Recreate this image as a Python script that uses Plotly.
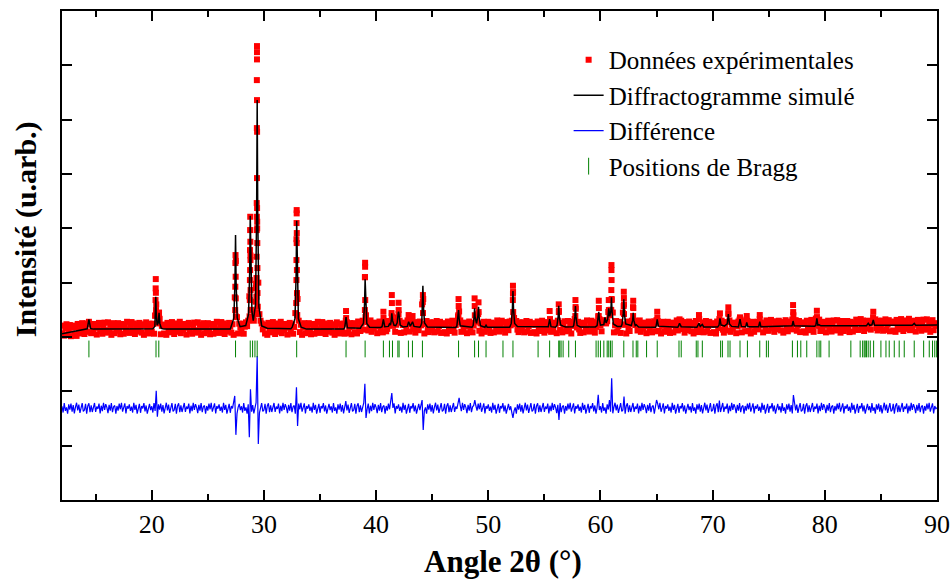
import numpy as np
import plotly.graph_objects as go

# ---------------- data ----------------
scan_start_2theta = 12.0
scan_step_2theta = 0.1

# observed intensity on the scan grid (12.0 .. 90.0, step 0.1), one row per degree
obs_counts = [
    3065, 3210, 3025, 3155, 3235, 3040, 3140, 3220, 3015, 3170,  # 12
    3210, 3045, 3180, 3020, 3240, 3120, 3065, 3200, 3255, 3090,  # 13
    3055, 3195, 3250, 3095, 3280, 3240, 3070, 3210, 3130, 3240,  # 14
    3215, 3045, 3170, 3260, 3105, 3235, 3060, 3185, 3265, 3080,  # 15
    3125, 3270, 3090, 3225, 3040, 3180, 3255, 3070, 3200, 3150,  # 16
    3255, 3115, 3050, 3240, 3195, 3060, 3220, 3135, 3280, 3095,  # 17
    3075, 3210, 3275, 3120, 3250, 3055, 3160, 3230, 3100, 3260,  # 18
    3190, 3080, 3235, 3040, 3215, 3270, 3110, 3065, 3245, 3175,  # 19
    3100, 3245, 3060, 3390, 3600, 3250, 3320, 3330, 3050, 3205,  # 20
    3230, 3065, 3200, 3040, 3260, 3140, 3085, 3220, 3275, 3110,  # 21
    3055, 3195, 3250, 3095, 3165, 3280, 3070, 3210, 3130, 3240,  # 22
    3215, 3045, 3170, 3260, 3105, 3235, 3060, 3185, 3265, 3080,  # 23
    3125, 3270, 3090, 3225, 3040, 3180, 3255, 3070, 3200, 3150,  # 24
    3255, 3115, 3050, 3240, 3195, 3060, 3220, 3135, 3280, 3095,  # 25
    3075, 3210, 3275, 3120, 3250, 3055, 3160, 3230, 3100, 3260,  # 26
    3190, 3080, 3235, 3040, 3730, 4400, 3365, 3065, 3245, 3175,  # 27
    3100, 3245, 3060, 3190, 3270, 3200, 3300, 3750, 4500, 3500,  # 28
    3340, 3300, 3420, 3980, 5000, 4000, 3420, 3300, 3250, 3140,  # 29
    3230, 3065, 3200, 3040, 3260, 3140, 3085, 3220, 3275, 3110,  # 30
    3055, 3195, 3250, 3095, 3165, 3280, 3070, 3210, 3130, 3240,  # 31
    3215, 3045, 3170, 3260, 3105, 3235, 3060, 3185, 3440, 4800,  # 32
    3700, 3300, 3090, 3225, 3040, 3180, 3255, 3070, 3200, 3150,  # 33
    3255, 3115, 3050, 3240, 3195, 3060, 3220, 3135, 3280, 3095,  # 34
    3075, 3210, 3275, 3120, 3250, 3055, 3160, 3230, 3100, 3260,  # 35
    3190, 3080, 3235, 3040, 3215, 3270, 3110, 3065, 3245, 3175,  # 36
    3100, 3245, 3060, 3300, 3270, 3075, 3175, 3255, 3050, 3205,  # 37
    3255, 3090, 3225, 3065, 3285, 3165, 3110, 3245, 3300, 3135,  # 38
    4100, 3400, 3275, 3120, 3190, 3305, 3095, 3235, 3155, 3265,  # 39
    3240, 3070, 3195, 3285, 3130, 3260, 3085, 3210, 3290, 3105,  # 40
    3150, 3295, 3250, 3250, 3380, 3205, 3280, 3095, 3225, 3360,  # 41
    3420, 3300, 3075, 3265, 3220, 3085, 3245, 3160, 3305, 3250,  # 42
    3100, 3235, 3300, 3145, 3275, 3080, 3185, 3255, 3125, 3285,  # 43
    3215, 3600, 3700, 3065, 3240, 3295, 3135, 3090, 3270, 3200,  # 44
    3125, 3270, 3085, 3215, 3295, 3100, 3200, 3280, 3075, 3230,  # 45
    3255, 3090, 3225, 3065, 3285, 3165, 3110, 3245, 3300, 3135,  # 46
    3080, 3220, 3275, 3380, 3470, 3305, 3095, 3235, 3155, 3265,  # 47
    3240, 3070, 3195, 3285, 3130, 3260, 3085, 3210, 3400, 3330,  # 48
    3280, 3420, 3115, 3250, 3065, 3205, 3280, 3095, 3225, 3175,  # 49
    3280, 3140, 3075, 3265, 3220, 3085, 3245, 3160, 3305, 3120,  # 50
    3100, 3235, 3300, 3145, 3275, 3080, 3185, 3255, 3125, 3285,  # 51
    3215, 3300, 3800, 3350, 3240, 3295, 3135, 3090, 3270, 3200,  # 52
    3125, 3270, 3085, 3215, 3295, 3100, 3200, 3280, 3075, 3230,  # 53
    3255, 3090, 3225, 3065, 3285, 3165, 3110, 3245, 3300, 3135,  # 54
    3080, 3220, 3275, 3120, 3190, 3330, 3095, 3235, 3155, 3265,  # 55
    3240, 3070, 3300, 3480, 3130, 3260, 3085, 3210, 3290, 3105,  # 56
    3150, 3295, 3115, 3250, 3065, 3205, 3280, 3330, 3520, 3175,  # 57
    3280, 3140, 3075, 3265, 3220, 3085, 3245, 3160, 3305, 3120,  # 58
    3100, 3235, 3300, 3145, 3275, 3080, 3185, 3255, 3380, 3330,  # 59
    3215, 3105, 3260, 3280, 3310, 3250, 3290, 3460, 3400, 3500,  # 60
    3700, 3450, 3085, 3215, 3295, 3100, 3200, 3280, 3075, 3230,  # 61
    3450, 3600, 3225, 3065, 3285, 3165, 3110, 3245, 3300, 3550,  # 62
    3300, 3220, 3275, 3120, 3190, 3305, 3095, 3235, 3155, 3265,  # 63
    3240, 3070, 3195, 3285, 3130, 3260, 3085, 3210, 3290, 3105,  # 64
    3310, 3295, 3115, 3250, 3065, 3205, 3280, 3095, 3225, 3175,  # 65
    3280, 3140, 3075, 3265, 3220, 3085, 3245, 3160, 3305, 3120,  # 66
    3300, 3235, 3300, 3145, 3275, 3080, 3185, 3255, 3125, 3285,  # 67
    3215, 3105, 3260, 3065, 3240, 3295, 3135, 3090, 3330, 3200,  # 68
    3125, 3270, 3085, 3215, 3295, 3100, 3200, 3280, 3075, 3230,  # 69
    3255, 3090, 3225, 3065, 3285, 3165, 3330, 3250, 3300, 3135,  # 70
    3080, 3220, 3275, 3120, 3440, 3305, 3095, 3235, 3155, 3265,  # 71
    3240, 3070, 3195, 3285, 3320, 3260, 3085, 3210, 3290, 3105,  # 72
    3320, 3295, 3115, 3250, 3065, 3205, 3280, 3095, 3225, 3175,  # 73
    3280, 3140, 3330, 3265, 3220, 3085, 3245, 3160, 3305, 3120,  # 74
    3115, 3250, 3315, 3160, 3290, 3095, 3200, 3270, 3140, 3300,  # 75
    3230, 3120, 3275, 3080, 3255, 3310, 3150, 3105, 3285, 3215,  # 76
    3140, 3320, 3400, 3230, 3310, 3115, 3215, 3295, 3090, 3245,  # 77
    3270, 3105, 3240, 3080, 3300, 3180, 3125, 3260, 3315, 3150,  # 78
    3095, 3235, 3340, 3300, 3205, 3320, 3110, 3250, 3170, 3280,  # 79
    3255, 3085, 3210, 3300, 3145, 3275, 3100, 3225, 3305, 3120,  # 80
    3165, 3310, 3130, 3265, 3080, 3220, 3295, 3110, 3240, 3190,  # 81
    3295, 3155, 3090, 3280, 3235, 3100, 3260, 3175, 3320, 3135,  # 82
    3130, 3265, 3330, 3175, 3305, 3110, 3215, 3285, 3155, 3300,  # 83
    3245, 3135, 3290, 3360, 3270, 3325, 3165, 3120, 3300, 3230,  # 84
    3155, 3300, 3115, 3245, 3325, 3130, 3230, 3310, 3105, 3260,  # 85
    3285, 3120, 3255, 3095, 3315, 3195, 3140, 3275, 3330, 3165,  # 86
    3110, 3250, 3305, 3150, 3220, 3335, 3125, 3265, 3185, 3295,  # 87
    3300, 3100, 3225, 3315, 3160, 3290, 3115, 3240, 3320, 3135,  # 88
    3180, 3325, 3145, 3280, 3095, 3235, 3310, 3125, 3255, 3205,  # 89
    3240,                                                        # 90
]

# difference (observed - calculated) on the same grid
diff_counts = [
    35, -80, 95, -50, 15, -100, 70, -25, 85, -65,        # 12
    55, -95, 20, 100, -40, 65, -85, 10, 95, -60,         # 13
    -35, 80, -100, 40, 90, -75, 50, -70, 15, 95,         # 14
    -70, 30, -15, 85, -95, 45, -55, 100, -30, 75,        # 15
    15, -90, 60, -45, 95, -75, 25, 50, -100, 40,         # 16
    -45, 85, -20, 100, -65, 5, 90, -95, 40, -10,         # 17
    70, -50, 30, -80, 100, -30, 60, -100, 20, 80,        # 18
    -85, 40, -5, 95, -60, 50, -100, 15, 80, -35,         # 19
    35, -80, 95, -50, 318, -155, 70, -25, 85, -65,       # 20
    55, -95, 20, 100, -40, 65, -85, 10, 95, -60,         # 21
    -35, 80, -100, 40, 90, -75, 50, -70, 15, 95,         # 22
    -70, 30, -15, 85, -95, 45, -55, 100, -30, 75,        # 23
    15, -90, 60, -45, 95, -75, 25, 50, -100, 40,         # 24
    -45, 85, -20, 100, -65, 5, 90, -95, 40, -10,         # 25
    70, -50, 30, -80, 100, -30, 60, -100, 20, 80,        # 26
    -85, 40, -5, 95, 226, -491, -100, 15, 80, -35,       # 27
    35, -80, 95, -50, 15, -100, 70, -534, 350, -65,      # 28
    55, -95, 20, 100, 962, -657, -85, 10, 95, -60,       # 29
    -35, 80, -100, 40, 90, -75, 50, -70, 15, 95,         # 30
    -70, 30, -15, 85, -95, 45, -55, 100, -30, 75,        # 31
    15, -90, 60, -45, 95, -75, 25, 50, -100, 386,        # 32
    -326, 85, -20, 100, -65, 5, 90, -95, 40, -10,        # 33
    70, -50, 30, -80, 100, -30, 60, -100, 20, 80,        # 34
    -85, 40, -5, 95, -60, 50, -100, 15, 80, -35,         # 35
    35, -80, 95, -50, 15, -100, 70, -25, 85, -65,        # 36
    55, -95, 20, 130, -40, 65, -85, 10, 95, -60,         # 37
    -35, 80, -100, 40, 90, -75, 50, -70, 15, 95,         # 38
    447, -180, -15, 85, -95, 45, -55, 100, -30, 75,      # 39
    15, -90, 60, -45, 95, -75, 25, 50, -100, 40,         # 40
    -45, 85, -20, 100, 280, 5, 90, -95, 40, -10,         # 41
    70, -50, 30, -80, 100, -30, 60, -100, 20, 80,        # 42
    -85, 40, -5, 95, -60, 50, -100, 15, 80, -35,         # 43
    35, 150, -400, -50, 15, -100, 70, -25, 85, -65,      # 44
    55, -95, 20, 100, -40, 65, -85, 10, 95, -60,         # 45
    -35, 80, -100, 40, 90, -75, 50, -70, 15, 95,         # 46
    -70, 30, -15, 85, 190, 45, -55, 100, -30, 75,        # 47
    15, -90, 60, -45, 95, -75, 25, 50, 150, 40,          # 48
    -45, 85, -20, 100, -65, 5, 90, -95, 40, -10,         # 49
    70, -50, 30, -80, 100, -30, 60, -100, 20, 80,        # 50
    -85, 40, -5, 95, -60, 50, -100, 15, 80, -35,         # 51
    35, -80, -180, -50, 15, -100, 70, -25, 85, -65,      # 52
    55, -95, 20, 100, -40, 65, -85, 10, 95, -60,         # 53
    -35, 80, -100, 40, 90, -75, 50, -70, 15, 95,         # 54
    -70, 30, -15, 85, -95, 45, -55, 100, -30, 75,        # 55
    15, -90, 60, -215, 95, -75, 25, 50, -100, 40,        # 56
    -45, 85, -20, 100, -65, 5, 90, -95, 40, -10,         # 57
    70, -50, 30, -80, 100, -30, 60, -100, 20, 80,        # 58
    -85, 40, -5, 95, -60, 50, -100, 15, 245, -35,        # 59
    35, -80, 95, -50, 15, -100, 70, -25, 150, -65,       # 60
    552, -95, 20, 100, -40, 65, -85, 10, 95, -60,        # 61
    -35, 213, -100, 40, 90, -75, 50, -70, 15, 95,        # 62
    -70, 30, -15, 85, -95, 45, -55, 100, -30, 75,        # 63
    15, -90, 60, -45, 95, -75, 25, 50, -100, 40,         # 64
    150, 85, -20, 100, -65, 5, 90, -95, 40, -10,         # 65
    70, -50, 30, -80, 100, -30, 60, -100, 20, 80,        # 66
    -85, 40, -5, 95, -60, 50, -100, 15, 80, -35,         # 67
    35, -80, 95, -50, 15, -100, 70, -25, 85, -65,        # 68
    55, -95, 20, 100, -40, 65, -85, 10, 95, -60,         # 69
    -35, 80, -100, 40, 90, -75, 140, -70, 15, 95,        # 70
    -70, 30, -15, 85, -95, 45, -55, 100, -30, 75,        # 71
    15, -90, 60, -45, 95, -75, 25, 50, -100, 40,         # 72
    -45, 85, -20, 100, -65, 5, 90, -95, 40, -10,         # 73
    70, -50, 30, -80, 100, -30, 60, -100, 20, 80,        # 74
    -85, 40, -5, 95, -60, 50, -100, 15, 80, -35,         # 75
    35, -80, 95, -50, 15, -100, 70, -25, 85, -65,        # 76
    55, -95, 240, 100, -40, 65, -85, 10, 95, -60,        # 77
    -35, 80, -100, 40, 90, -75, 50, -70, 15, 95,         # 78
    -70, 30, -15, 85, -95, 45, -55, 100, -30, 75,        # 79
    15, -90, 60, -45, 95, -75, 25, 50, -100, 40,         # 80
    -45, 85, -20, 100, -65, 5, 90, -95, 40, -10,         # 81
    70, -50, 30, -80, 100, -30, 60, -100, 20, 80,        # 82
    -85, 40, -5, 95, -60, 50, -100, 15, 80, -35,         # 83
    35, -80, 95, -50, 15, -100, 70, -25, 85, -65,        # 84
    55, -95, 20, 100, -40, 65, -85, 10, 95, -60,         # 85
    -35, 80, -100, 40, 90, -75, 50, -70, 15, 95,         # 86
    -70, 30, -15, 85, -95, 45, -55, 100, -30, 75,        # 87
    15, -90, 60, -45, 95, -75, 25, 50, -100, 40,         # 88
    -45, 85, -20, 100, -65, 5, 90, -95, 40, -10,         # 89
    10,                                                  # 90
]

# extra observed points climbing the peak flanks (2theta, counts)
peak_obs_points = [
    (20.36, 4066), (20.35, 3895), (20.37, 3814), (20.34, 3680), (20.38, 3496), (20.33, 3400),
    (20.65, 3450), (20.66, 3350),
    (27.47, 4508), (27.46, 4361), (27.48, 4109), (27.45, 3925), (27.49, 3711), (27.44, 3496), (27.50, 3380),
    (28.78, 5213), (28.77, 4968), (28.79, 4753), (28.76, 4600), (28.80, 4416), (28.77, 4232),
    (28.75, 4048), (28.81, 3864), (28.74, 3680), (28.82, 3496), (28.72, 3380),
    (29.38, 8354), (29.38, 8243), (29.38, 8109), (29.37, 7728), (29.38, 7360), (29.37, 6845),
    (29.39, 6777), (29.38, 5925), (29.36, 5465), (29.39, 5373), (29.37, 5213), (29.40, 5121),
    (29.36, 4968), (29.41, 4729), (29.35, 4477), (29.42, 4269), (29.34, 4085), (29.43, 3809),
    (29.33, 3741), (29.45, 3557), (29.30, 3450), (29.28, 3900), (29.25, 3650), (29.15, 3450), (29.05, 3350),
    (32.92, 5336), (32.92, 5275), (32.91, 5097), (32.93, 4913), (32.92, 4729), (32.90, 4416),
    (32.94, 4232), (32.90, 4048), (32.95, 3809), (32.88, 3625), (32.97, 3404),
    (37.32, 3478), (37.33, 3349),
    (39.02, 4366), (39.02, 4293), (39.01, 4103), (39.03, 3680), (39.00, 3496), (39.05, 3367),
    (40.65, 3465), (40.66, 3350),
    (41.40, 3772), (41.41, 3625), (41.38, 3441),
    (42.00, 3630), (42.01, 3496),
    (42.90, 3404), (43.25, 3386),
    (44.17, 3772), (44.16, 3643), (44.18, 3441),
    (47.35, 3698), (47.36, 3570), (47.34, 3404),
    (48.78, 3711), (48.79, 3570), (49.13, 3638), (49.14, 3459),
    (52.20, 3943), (52.21, 3827), (52.19, 3680), (52.22, 3459),
    (55.47, 3478),
    (56.28, 3601), (56.29, 3459),
    (57.77, 3680), (57.78, 3551), (57.76, 3386),
    (59.85, 3667), (59.86, 3533), (59.84, 3386),
    (60.74, 3680), (60.75, 3496),
    (60.98, 4324), (60.98, 4232), (60.99, 4048), (60.97, 3864), (61.00, 3680), (60.96, 3496),
    (62.08, 3833), (62.09, 3717), (62.07, 3570), (62.10, 3422),
    (62.92, 3667), (62.93, 3533), (62.91, 3386),
    (65.06, 3465), (65.07, 3350),
    (67.05, 3325), (68.78, 3404), (70.65, 3435),
    (71.40, 3546), (71.41, 3422),
    (72.44, 3362), (73.04, 3386), (74.20, 3404),
    (77.17, 3588), (77.18, 3459),
    (79.29, 3483), (79.30, 3367),
    (84.32, 3465),
]

# simulated (calculated) profile, as read point by point (2theta, counts)
calc_profile = [
    (12.00, 3060), (14.00, 3140), (14.25, 3150), (14.40, 3325), (14.55, 3155), (14.80, 3145),
    (20.00, 3142), (20.10, 3150), (20.28, 3200), (20.32, 3440), (20.36, 3741), (20.40, 3440),
    (20.48, 3220), (20.58, 3260), (20.65, 3446), (20.72, 3250), (20.85, 3160), (21.10, 3145),
    (27.00, 3145), (27.07, 3190), (27.32, 3350), (27.42, 4010), (27.47, 4876), (27.52, 4010),
    (27.62, 3350), (27.87, 3190),
    (28.38, 3210), (28.63, 3420), (28.73, 4190), (28.78, 5231), (28.83, 4200), (28.93, 3470),
    (29.05, 3300), (29.25, 3590), (29.35, 5270), (29.40, 7360), (29.45, 5250), (29.55, 3560),
    (29.80, 3205), (30.30, 3160),
    (32.40, 3150), (32.52, 3180), (32.77, 3340), (32.87, 4140), (32.92, 5139), (32.97, 4140),
    (33.07, 3340), (33.32, 3180), (33.80, 3145),
    (37.10, 3145), (37.20, 3170), (37.32, 3367), (37.44, 3170),
    (38.60, 3160), (38.62, 3175), (38.87, 3250), (38.97, 3600), (39.02, 4061), (39.07, 3600),
    (39.17, 3250), (39.42, 3180),
    (40.40, 3175), (40.53, 3190), (40.65, 3325), (40.77, 3190),
    (41.10, 3195), (41.19, 3240), (41.28, 3220), (41.35, 3300), (41.40, 3435), (41.47, 3300),
    (41.60, 3215), (41.75, 3210), (41.88, 3260), (41.97, 3440), (42.00, 3465), (42.05, 3400),
    (42.15, 3220), (42.40, 3185),
    (42.78, 3195), (42.90, 3281), (43.05, 3200), (43.25, 3281), (43.38, 3195),
    (43.90, 3180), (43.97, 3200), (44.07, 3260), (44.13, 3580), (44.17, 3943), (44.22, 3560),
    (44.32, 3260), (44.57, 3185),
    (47.10, 3175), (47.20, 3205), (47.30, 3340), (47.35, 3496), (47.40, 3340), (47.50, 3205),
    (48.55, 3180), (48.65, 3210), (48.73, 3350), (48.78, 3527), (48.83, 3360), (48.95, 3250),
    (49.07, 3380), (49.13, 3557), (49.18, 3370), (49.30, 3210),
    (49.70, 3180), (49.80, 3215), (49.90, 3180),
    (51.90, 3178), (51.95, 3200), (52.05, 3250), (52.15, 3510), (52.20, 3846), (52.25, 3510),
    (52.35, 3250), (52.60, 3195),
    (55.30, 3178), (55.35, 3190), (55.47, 3330), (55.59, 3190),
    (56.00, 3180), (56.13, 3215), (56.23, 3380), (56.28, 3575), (56.33, 3380), (56.45, 3220),
    (56.67, 3200), (56.90, 3185),
    (57.55, 3190), (57.62, 3215), (57.72, 3375), (57.77, 3570), (57.82, 3375), (57.92, 3215),
    (58.20, 3185),
    (59.55, 3185), (59.70, 3210), (59.80, 3330), (59.85, 3465), (59.90, 3330), (60.00, 3220),
    (60.30, 3230), (60.40, 3362), (60.50, 3260), (60.65, 3330), (60.74, 3527), (60.83, 3380),
    (60.93, 3480), (60.98, 3730), (61.03, 3480), (61.15, 3240), (61.50, 3195),
    (61.85, 3195), (61.93, 3240), (62.03, 3430), (62.08, 3693), (62.13, 3430), (62.25, 3240),
    (62.75, 3210), (62.87, 3310), (62.92, 3446), (62.97, 3310), (63.10, 3210), (63.19, 3225),
    (63.40, 3185),
    (64.90, 3178), (64.96, 3200), (65.06, 3325), (65.16, 3200),
    (66.90, 3178), (67.05, 3251), (67.20, 3190),
    (68.60, 3180), (68.78, 3251), (68.90, 3195), (69.08, 3230), (69.20, 3185),
    (70.45, 3182), (70.57, 3220), (70.65, 3343), (70.75, 3220), (70.87, 3215), (71.05, 3200),
    (71.30, 3240), (71.40, 3422), (71.50, 3240), (71.70, 3195),
    (72.30, 3185), (72.44, 3330), (72.56, 3195),
    (72.95, 3190), (73.04, 3270), (73.14, 3190),
    (74.10, 3190), (74.20, 3281), (74.30, 3190),
    (76.95, 3195), (77.08, 3205), (77.17, 3294), (77.27, 3205),
    (79.10, 3200), (79.20, 3215), (79.29, 3343), (79.38, 3220), (79.50, 3225), (79.65, 3205),
    (83.70, 3205), (83.87, 3251), (84.00, 3215), (84.20, 3225), (84.32, 3312), (84.44, 3215),
    (87.80, 3215), (87.97, 3251), (88.10, 3215),
    (90.00, 3220),
]

# Bragg reflection positions (2theta)
bragg_2theta = [
    14.40, 20.38, 20.63, 27.47, 28.78, 28.99, 29.20, 29.40, 32.92, 37.32,
    39.02, 40.65, 41.19, 41.46, 41.94, 42.05, 42.88, 43.24, 44.13, 47.35,
    48.78, 49.13, 49.80, 51.31, 52.20, 54.44, 55.47, 56.28, 56.37, 56.49,
    56.67, 57.17, 57.77, 59.61, 59.80, 60.00, 60.30, 60.60, 60.74, 60.89,
    61.04, 62.08, 62.90, 63.19, 63.33, 64.11, 65.06, 67.00, 67.20, 68.54,
    68.69, 69.08, 70.71, 70.87, 71.37, 71.55, 72.44, 73.10, 74.20, 74.79,
    74.97, 77.11, 77.56, 77.86, 78.39, 79.29, 79.49, 79.64, 80.38, 82.32,
    83.15, 83.37, 83.51, 83.60, 83.72, 83.87, 84.05, 84.35, 85.00, 85.45,
    85.74, 86.19, 86.63, 87.08, 87.97, 88.81, 89.31, 89.60, 89.80, 89.97,
]

legend_labels = ["Données expérimentales", "Diffractogramme simulé",
                 "Différence", "Positions de Bragg"]

# ---------------- layout constants ----------------
DIFF_OFFSET = 1690    # vertical offset of the difference curve
BRAGG_ROW_Y = 2780    # height at which the Bragg ticks are drawn
SERIF = "Liberation Serif"

# ---------------- build ----------------
grid_2theta = np.round(scan_start_2theta + scan_step_2theta * np.arange(len(obs_counts)), 2)
obs_x = list(grid_2theta) + [p[0] for p in peak_obs_points]
obs_y = list(obs_counts) + [p[1] for p in peak_obs_points]
calc_x = [p[0] for p in calc_profile]
calc_y = [p[1] for p in calc_profile]
diff_y = [d + DIFF_OFFSET for d in diff_counts]

fig = go.Figure()
fig.add_trace(go.Scatter(
    x=obs_x, y=obs_y, mode="markers", name=legend_labels[0],
    marker=dict(symbol="square", size=6, color="#ff0000", line=dict(width=0)),
))
fig.add_trace(go.Scatter(
    x=calc_x, y=calc_y, mode="lines", name=legend_labels[1],
    line=dict(color="black", width=1.5),
))
fig.add_trace(go.Scatter(
    x=grid_2theta, y=diff_y, mode="lines", name=legend_labels[2],
    line=dict(color="#0000ff", width=1.2),
))
fig.add_trace(go.Scatter(
    x=bragg_2theta, y=[BRAGG_ROW_Y] * len(bragg_2theta), mode="markers",
    name=legend_labels[3],
    marker=dict(symbol="line-ns", size=12, color="#008000",
                line=dict(color="#008000", width=1)),
))

axis_common = dict(
    showline=True, linecolor="black", linewidth=2, mirror="ticks",
    ticks="inside", ticklen=10, tickwidth=2, tickcolor="black",
    showgrid=False, zeroline=False, automargin=False,
)

fig.update_xaxes(
    range=[12, 90], tickmode="linear", tick0=0, dtick=10,
    tickfont=dict(family=SERIF, size=26, color="black"),
    minor=dict(ticks="inside", dtick=5, tick0=0, ticklen=6, tickwidth=2, tickcolor="black"),
    **axis_common,
)
fig.update_yaxes(
    range=[0, 9000], tickmode="linear", tick0=0, dtick=1000,
    showticklabels=False,
    **axis_common,
)

fig.add_annotation(
    text="<b>Intensité (u.arb.)</b>", textangle=-90,
    xref="paper", yref="paper", x=-0.041, y=0.554,
    xanchor="center", yanchor="middle", showarrow=False,
    font=dict(family=SERIF, size=30, color="black"),
)
fig.add_annotation(
    text="<b>Angle 2θ (°)</b>",
    xref="paper", yref="paper", x=0.504, y=-0.125,
    xanchor="center", yanchor="middle", showarrow=False,
    font=dict(family=SERIF, size=31, color="black"),
)

fig.update_layout(
    width=952, height=580, autosize=False,
    margin=dict(l=62, r=15, t=11, b=80, autoexpand=False),
    paper_bgcolor="white", plot_bgcolor="white",
    font=dict(family=SERIF, color="black"),
    showlegend=True,
    legend=dict(
        x=0.579, y=0.947, xanchor="left", yanchor="top",
        font=dict(family=SERIF, size=25, color="black"),
        bgcolor="rgba(0,0,0,0)", borderwidth=0,
    ),
)

page_fix = (
    "document.documentElement.style.overflow='hidden';"
    "document.body.style.margin='0px';"
    "document.body.style.overflow='hidden';"
    "Plotly.relayout(document.getElementById('{plot_id}'), {width: 952, height: 580});"
)

fig.write_html(
    "out.html",
    config={"displayModeBar": False, "responsive": False},
    post_script=page_fix,
)
